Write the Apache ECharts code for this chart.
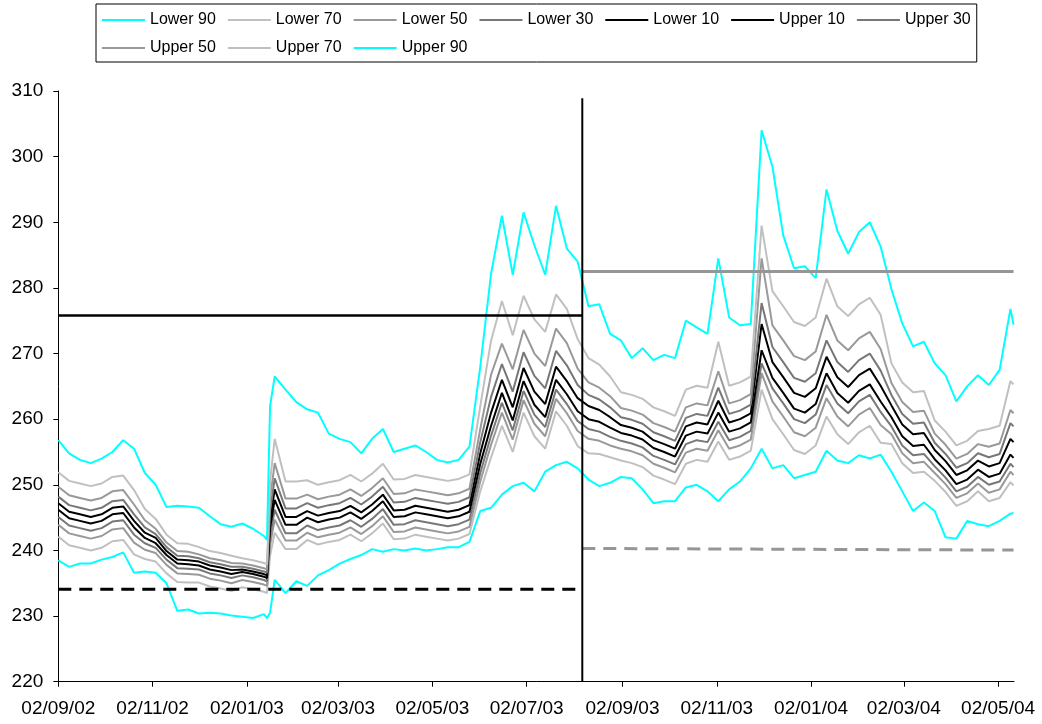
<!DOCTYPE html>
<html>
<head>
<meta charset="utf-8">
<title>Fan chart</title>
<script src="https://cdn.jsdelivr.net/npm/echarts@6/dist/echarts.min.js"></script>
<style>
  html, body { margin: 0; padding: 0; background: #fff; }
  #chart { width: 1042px; height: 724px; }
</style>
</head>
<body>
<div id="chart"></div>
<script>
// weekly readings, plus two extra days around the January 2003 jump
const dates = [
  '2002-09-02','2002-09-09','2002-09-16','2002-09-23','2002-09-30',
  '2002-10-07','2002-10-14','2002-10-21','2002-10-28',
  '2002-11-04','2002-11-11','2002-11-18','2002-11-25',
  '2002-12-02','2002-12-09','2002-12-16','2002-12-23','2002-12-30',
  '2003-01-06','2003-01-13','2003-01-15','2003-01-17','2003-01-20','2003-01-27',
  '2003-02-03','2003-02-10','2003-02-17','2003-02-24',
  '2003-03-03','2003-03-10','2003-03-17','2003-03-24','2003-03-31',
  '2003-04-07','2003-04-14','2003-04-21','2003-04-28',
  '2003-05-05','2003-05-12','2003-05-19','2003-05-26',
  '2003-06-02','2003-06-09','2003-06-16','2003-06-23','2003-06-30',
  '2003-07-07','2003-07-14','2003-07-21','2003-07-28',
  '2003-08-04','2003-08-11','2003-08-18','2003-08-25',
  '2003-09-01','2003-09-08','2003-09-15','2003-09-22','2003-09-29',
  '2003-10-06','2003-10-13','2003-10-20','2003-10-27',
  '2003-11-03','2003-11-10','2003-11-17','2003-11-24',
  '2003-12-01','2003-12-08','2003-12-15','2003-12-22','2003-12-29',
  '2004-01-05','2004-01-12','2004-01-19','2004-01-26',
  '2004-02-02','2004-02-09','2004-02-16','2004-02-23',
  '2004-03-01','2004-03-08','2004-03-15','2004-03-22','2004-03-29',
  '2004-04-05','2004-04-12','2004-04-19','2004-04-26',
  '2004-05-03','2004-05-10','2004-05-12'
];

const lower90 = [
  238.5,237.5,238.0,238.0,238.6,239.0,239.7,236.6,236.8,236.6,
  235.0,230.8,231.0,230.4,230.5,230.4,230.1,229.9,229.7,230.3,
  229.7,230.5,
  235.5,233.5,235.3,234.6,236.2,237.0,238.0,238.7,239.3,240.2,
  239.8,240.2,240.0,240.3,240.0,240.2,240.5,240.5,241.3,246.0,
  246.5,248.5,249.8,250.3,249.0,252.0,253.0,253.5,252.5,250.8,
  249.8,250.3,251.2,251.0,249.3,247.2,247.5,247.5,249.6,250.0,
  249.0,247.5,249.3,250.5,252.5,255.5,252.5,253.0,251.0,251.5,
  252.0,255.2,253.7,253.3,254.5,254.0,254.6,252.0,249.0,246.0,
  247.3,246.0,242.0,241.8,244.5,244.0,243.7,244.5,245.6,
  245.7
];
const lower70 = [
  242.1,240.8,240.4,240.0,240.4,241.4,241.6,239.4,238.7,238.3,
  236.5,235.2,235.1,235.1,234.5,234.2,233.8,234.4,234.1,233.7,
  233.5,239.2,
  242.7,240.2,240.2,241.6,240.9,241.3,241.6,242.4,241.4,242.6,
  244.1,241.7,241.8,242.4,242.1,241.8,241.5,241.8,242.5,249.0,
  254.2,259.0,255.0,261.0,257.4,255.5,261.2,259.0,255.9,254.8,
  254.7,254.2,253.7,253.3,252.7,251.4,250.8,250.1,253.2,253.8,
  253.5,256.6,253.8,254.3,255.2,264.5,260.0,257.7,255.3,254.7,
  256.0,260.4,257.7,256.2,258.0,259.0,256.4,256.2,253.3,251.8,
  252.0,250.6,248.9,246.8,247.5,249.0,247.5,248.0,250.4,
  249.9
];
const lower50 = [
  243.9,242.6,242.2,241.8,242.2,243.2,243.4,241.2,240.1,239.6,
  237.8,236.5,236.4,236.3,235.7,235.4,235.0,235.5,235.2,234.8,
  234.6,240.8,
  244.7,241.5,241.5,242.7,242.0,242.4,242.7,243.5,242.5,243.7,
  245.2,242.8,242.9,243.5,243.2,242.9,242.6,242.9,243.6,250.5,
  256.1,261.0,256.9,262.9,259.3,257.4,263.1,260.9,258.2,257.0,
  256.7,256.0,255.5,255.1,254.5,253.2,252.6,251.9,254.9,255.5,
  255.2,258.3,255.5,256.0,256.9,267.0,262.7,260.4,258.0,257.4,
  258.7,263.2,260.4,258.9,260.7,261.7,259.1,257.7,254.8,253.3,
  253.5,251.8,250.1,248.0,248.7,250.2,248.8,249.3,252.0,
  251.5
];
const lower30 = [
  245.1,243.8,243.4,243.0,243.4,244.4,244.6,242.4,241.1,240.4,
  238.6,237.3,237.2,237.1,236.5,236.2,235.8,236.2,235.9,235.5,
  235.3,242.1,
  246.2,242.6,242.6,243.8,243.1,243.5,243.8,244.6,243.6,244.8,
  246.3,243.9,244.0,244.6,244.3,244.0,243.7,244.0,244.7,251.8,
  257.5,262.5,258.3,264.3,260.7,258.8,264.5,262.3,259.7,258.5,
  258.1,257.3,256.7,256.3,255.7,254.4,253.8,253.1,256.2,256.8,
  256.5,259.6,256.8,257.3,258.2,268.5,264.7,262.4,260.0,259.4,
  260.7,265.2,262.4,260.9,262.7,263.7,261.1,258.9,256.0,254.5,
  254.7,252.8,251.1,249.0,249.7,251.2,250.0,250.5,253.2,
  252.7
];
const lower10 = [
  246.2,244.9,244.5,244.1,244.5,245.5,245.7,243.5,241.9,241.1,
  239.3,238.0,237.9,237.7,237.1,236.8,236.4,236.7,236.4,236.0,
  235.8,243.4,
  247.7,243.9,243.9,245.0,244.3,244.7,245.0,245.8,244.8,246.0,
  247.5,245.1,245.2,245.8,245.5,245.2,244.9,245.2,245.9,253.2,
  259.0,264.0,259.8,265.8,262.2,260.3,266.0,263.8,261.2,260.0,
  259.6,258.7,257.9,257.5,256.9,255.6,255.0,254.3,257.5,258.1,
  257.8,261.0,258.1,258.6,259.5,270.5,266.3,264.0,261.6,261.0,
  262.3,267.0,264.0,262.5,264.3,265.3,262.7,260.3,257.4,255.9,
  256.1,253.9,252.2,250.1,250.8,252.3,251.2,251.7,254.6,
  254.1
];
const upper10 = [
  247.2,245.9,245.5,245.1,245.5,246.5,246.7,244.5,242.7,241.9,
  239.9,238.6,238.5,238.3,237.7,237.4,237.0,237.1,236.8,236.4,
  236.2,244.6,
  249.3,245.1,245.1,246.0,245.3,245.7,246.0,246.8,245.8,247.0,
  248.5,246.1,246.2,246.8,246.5,246.2,245.9,246.2,246.9,254.8,
  261.0,266.0,261.8,267.8,264.2,262.3,268.0,265.8,263.2,262.0,
  261.4,260.3,259.1,258.7,258.1,256.8,256.2,255.5,258.9,259.5,
  259.2,262.8,259.5,260.0,260.9,274.5,268.7,266.4,264.0,263.4,
  264.7,269.5,266.4,264.9,266.7,267.7,265.1,262.1,259.2,257.7,
  257.9,255.3,253.6,251.5,252.2,253.7,252.8,253.3,257.0,
  256.5
];
const upper30 = [
  248.2,246.9,246.5,246.1,246.5,247.5,247.7,245.5,243.5,242.5,
  240.5,239.2,239.1,238.8,238.2,237.9,237.5,237.5,237.2,236.8,
  236.6,246.0,
  251.0,246.4,246.4,247.2,246.5,246.9,247.2,248.0,247.0,248.2,
  249.7,247.3,247.4,248.0,247.7,247.4,247.1,247.4,248.1,256.5,
  263.4,268.4,264.2,270.2,266.6,264.7,270.4,268.2,265.2,263.7,
  263.0,261.8,260.3,259.9,259.3,258.0,257.4,256.7,260.2,260.8,
  260.5,264.8,260.8,261.3,262.2,277.7,271.0,268.7,266.3,265.7,
  267.0,272.0,268.7,267.2,269.0,270.0,267.4,263.7,260.8,259.3,
  259.5,256.4,254.7,252.6,253.3,254.8,254.2,254.7,259.4,
  258.9
];
const upper50 = [
  249.7,248.4,248.0,247.6,248.0,249.0,249.2,247.0,244.6,243.3,
  241.2,239.9,239.8,239.4,238.8,238.5,238.1,238.0,237.7,237.3,
  237.1,247.8,
  253.3,247.9,247.9,248.5,247.8,248.2,248.5,249.3,248.3,249.5,
  251.0,248.6,248.7,249.3,249.0,248.7,248.4,248.7,249.4,258.5,
  266.8,271.5,267.6,273.6,270.0,268.1,273.8,271.6,267.7,265.6,
  264.8,263.5,261.7,261.3,260.7,259.4,258.8,258.1,261.8,262.4,
  262.1,267.3,262.4,262.9,263.8,284.5,274.3,272.0,269.6,269.0,
  270.3,275.9,272.0,270.5,272.3,273.3,270.7,265.5,262.6,261.1,
  261.3,257.8,256.1,254.0,254.7,256.2,255.8,256.3,261.4,
  260.9
];
const upper70 = [
  251.9,250.6,250.2,249.8,250.2,251.2,251.4,249.2,246.3,244.8,
  242.4,241.1,241.0,240.5,239.9,239.6,239.2,238.8,238.5,238.1,
  237.9,250.5,
  257.0,250.5,250.5,250.7,250.0,250.4,250.7,251.5,250.5,251.7,
  253.2,250.8,250.9,251.5,251.2,250.9,250.6,250.9,251.6,262.0,
  272.0,278.0,272.8,278.8,275.2,273.3,279.0,276.8,272.2,269.3,
  268.3,266.5,264.1,263.7,263.1,261.8,261.2,260.5,264.5,265.1,
  264.8,271.8,265.1,265.6,266.5,289.5,279.5,277.2,274.8,274.2,
  275.5,281.4,277.2,275.7,277.5,278.5,275.9,268.5,265.6,264.1,
  264.3,259.8,258.1,256.0,256.7,258.2,258.5,259.0,265.8,
  265.3
];
const upper90 = [
  256.8,254.8,253.8,253.3,254.0,255.0,256.8,255.5,251.8,250.0,
  246.6,246.8,246.7,246.5,245.2,244.0,243.6,244.1,243.3,242.2,
  241.6,262.0,
  266.5,264.5,262.6,261.5,261.0,257.8,257.0,256.5,254.8,257.0,
  258.5,255.0,255.5,256.0,255.0,253.8,253.4,253.8,255.8,268.0,
  282.2,291.0,282.0,291.5,286.5,282.0,292.5,286.0,284.0,277.2,
  277.5,273.0,272.0,269.3,270.8,269.0,269.8,269.3,275.0,274.0,
  273.0,284.5,275.5,274.3,274.5,304.0,298.5,288.0,283.0,283.3,
  281.5,295.0,288.7,285.2,288.5,290.0,286.3,279.8,274.6,271.1,
  271.8,268.5,266.7,262.7,265.0,266.7,265.2,267.5,276.8,
  274.4
];

// tick labels on the date axis
const tickDates = ['2002-09-02','2002-11-02','2003-01-02','2003-03-02','2003-05-02',
  '2003-07-02','2003-09-02','2003-11-02','2004-01-02','2004-03-02','2004-05-02'];

// reference levels
const startDate = '2002-09-02';
const splitDate = '2003-08-07';
const endDate = '2004-05-12';
const oldUpper = 275.8;
const oldLower = 234.1;
const newUpper = 282.5;
const newLowerStart = 240.3;
const newLowerEnd = 240.05;
const splitTop = 308.9;

const bandNames = ['Lower 90','Lower 70','Lower 50','Lower 30','Lower 10',
  'Upper 10','Upper 30','Upper 50','Upper 70','Upper 90'];
const bandValues = [lower90, lower70, lower50, lower30, lower10,
  upper10, upper30, upper50, upper70, upper90];
const bandColors = ['#00FFFF','#C0C0C0','#999999','#777777','#000000',
  '#000000','#777777','#999999','#C0C0C0','#00FFFF'];

const font = 'Liberation Sans, Arial, sans-serif';

// local-time timestamp from 'YYYY-MM-DD'
function ts(s) {
  const p = s.split('-');
  return new Date(+p[0], +p[1] - 1, +p[2]).getTime();
}

function fmtDate(v) {
  const d = new Date(v);
  const p = n => (n < 10 ? '0' : '') + n;
  return p(d.getDate()) + '/' + p(d.getMonth() + 1) + '/' + String(d.getFullYear()).slice(2);
}

const series = bandNames.map((name, i) => ({
  name: name,
  type: 'line',
  symbol: 'none',
  showSymbol: false,
  z: 2,
  lineStyle: { color: bandColors[i], width: 2 },
  itemStyle: { color: bandColors[i] },
  data: dates.map((d, j) => [ts(d), bandValues[i][j]])
}));

function refLine(points, color, width, type) {
  return {
    type: 'line', symbol: 'none', silent: true, z: 3,
    lineStyle: { color: color, width: width, type: type },
    data: points.map(p => [ts(p[0]), p[1]])
  };
}

series.push(refLine([[startDate, oldUpper], [splitDate, oldUpper]], '#000000', 2.5, 'solid'));
series.push(refLine([[startDate, oldLower], [splitDate, oldLower]], '#000000', 3, [13, 8]));
series.push(refLine([[splitDate, newUpper], [endDate, newUpper]], '#969696', 3, 'solid'));
series.push(refLine([[splitDate, newLowerStart], [endDate, newLowerEnd]], '#969696', 3, [13, 8]));
series.push(refLine([[splitDate, 220], [splitDate, splitTop]], '#000000', 2, 'solid'));

const chart = echarts.init(document.getElementById('chart'), null, { renderer: 'canvas' });

const tickValues = tickDates.map(ts);

const option = {
  animation: false,
  backgroundColor: '#ffffff',
  legend: {
    data: bandNames,
    left: 96,
    top: 4,
    width: 880,
    icon: 'rect',
    itemWidth: 43,
    itemHeight: 2,
    itemGap: 12,
    padding: [8, 6, 6, 6],
    borderColor: '#000000',
    borderWidth: 1,
    selectedMode: false,
    textStyle: { fontFamily: font, fontSize: 16, color: '#000000', lineHeight: 15 }
  },
  grid: {
    left: 58.3,
    right: 28,
    top: 91,
    bottom: 42.3,
    containLabel: false,
    outerBoundsMode: 'none'
  },
  xAxis: {
    type: 'value',
    min: ts(startDate),
    max: ts(endDate) + 7 * 3600 * 1000,
    splitLine: { show: false },
    axisLine: { show: true, lineStyle: { color: '#000000', width: 1 } },
    axisTick: {
      show: true, length: 5, lineStyle: { color: '#000000' },
      customValues: tickValues
    },
    axisLabel: {
      customValues: tickValues,
      formatter: fmtDate,
      fontFamily: font,
      fontSize: 19,
      color: '#000000',
      margin: 18,
      showMinLabel: true,
      showMaxLabel: true,
      hideOverlap: false
    }
  },
  yAxis: {
    type: 'value',
    min: 220,
    max: 310,
    interval: 10,
    splitLine: { show: false },
    axisLine: { show: true, lineStyle: { color: '#000000', width: 1 } },
    axisTick: { show: true, length: 5, lineStyle: { color: '#000000' } },
    axisLabel: { fontFamily: font, fontSize: 19, color: '#000000', margin: 15 }
  },
  series: series
};

chart.setOption(option);
</script>
</body>
</html>
